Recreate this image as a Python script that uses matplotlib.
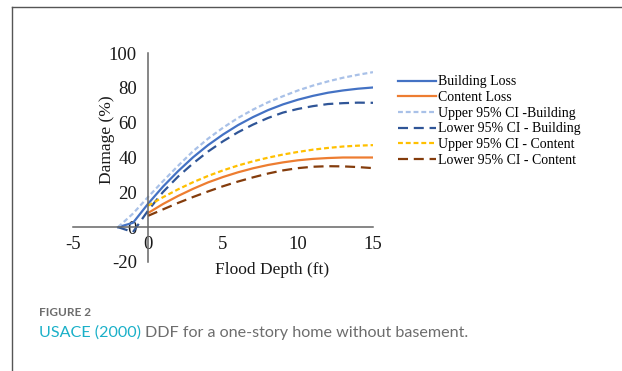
import matplotlib
matplotlib.use("Agg")
import matplotlib.pyplot as plt
from matplotlib.lines import Line2D

# ---- data ----
depth_building = [-2, -1, 0, 1, 2, 3, 4, 5, 6, 7, 8, 9, 10, 11, 12, 13, 14, 15]
building_loss = [0, 2.5, 13.4, 23.3, 32.1, 40.1, 47.1, 53.2, 58.6, 63.2, 67.2, 70.5, 73.2, 75.4, 77.2, 78.5, 79.5, 80.2]
upper_building = [0, 7.8, 17.3, 26.4, 35.2, 43.6, 50.8, 57.1, 62.7, 67.5, 71.7, 75.2, 78.5, 81.3, 83.7, 85.8, 87.5, 89.0]
lower_building = [0, -2.8, 9.5, 20.2, 29.0, 36.6, 43.4, 49.3, 54.5, 58.9, 62.7, 65.8, 67.9, 69.5, 70.7, 71.2, 71.5, 71.4]

depth_content = [0, 1, 2, 3, 4, 5, 6, 7, 8, 9, 10, 11, 12, 13, 14, 15]
content_loss = [8.1, 13.3, 17.9, 22.0, 25.7, 28.8, 31.5, 33.8, 35.7, 37.2, 38.4, 39.2, 39.7, 40.0, 40.0, 40.0]
upper_content = [12.3, 17.2, 21.7, 25.8, 29.4, 32.6, 35.4, 37.8, 39.9, 41.7, 43.2, 44.5, 45.5, 46.3, 46.8, 47.1]
lower_content = [6.5, 10.2, 13.9, 17.3, 20.5, 23.5, 26.2, 28.6, 30.8, 32.6, 33.9, 34.7, 35.0, 34.9, 34.5, 33.9]

x_ticks = [-5, 0, 5, 10, 15]
y_ticks = [-20, 0, 20, 40, 60, 80, 100]

W, H = 622, 371
fig = plt.figure(figsize=(W / 100, H / 100), dpi=100)
fig.patch.set_facecolor("white")

def fx(px):
    return px / W

def fy(py):
    return 1 - py / H

ax = fig.add_axes([fx(73), fy(262), (373 - 73) / W, (262 - 53) / H])
ax.set_xlim(-5, 15)
ax.set_ylim(-20, 100)
ax.patch.set_alpha(0)

serif = ["Liberation Serif", "DejaVu Serif"]
lw = 1.6

l1, = ax.plot(depth_building, building_loss, color="#4472C4", lw=lw, label="Building Loss")
l2, = ax.plot(depth_content, content_loss, color="#ED7D31", lw=lw, label="Content Loss")
l3, = ax.plot(depth_building, upper_building, color="#A9C1E8", lw=lw, ls=(0, (2.2, 1.3)), label="Upper 95% CI -Building")
l4, = ax.plot(depth_building, lower_building, color="#2F5597", lw=lw, ls=(0, (4.5, 2.6)), label="Lower 95% CI - Building")
l5, = ax.plot(depth_content, upper_content, color="#FFC000", lw=lw, ls=(0, (2.2, 1.3)), label="Upper 95% CI - Content")
l6, = ax.plot(depth_content, lower_content, color="#843C0C", lw=lw, ls=(0, (4.5, 2.6)), label="Lower 95% CI - Content")

for s in ["top", "right"]:
    ax.spines[s].set_visible(False)
ax.spines["left"].set_position(("data", 0))
ax.spines["bottom"].set_position(("data", 0))
for s in ["left", "bottom"]:
    ax.spines[s].set_color("#666666")
    ax.spines[s].set_linewidth(1.1)

ax.set_xticks(x_ticks)
ax.set_yticks(y_ticks)
ax.set_xticklabels([str(v) for v in x_ticks], fontfamily=serif, fontsize=13.5)
ax.set_yticklabels([str(v) for v in y_ticks], fontfamily=serif, fontsize=13.5)
ax.tick_params(axis="both", length=0, colors="#1a1a1a")
ax.tick_params(axis="x", pad=6)
ax.tick_params(axis="y", pad=8)

fig.text(fx(107), fy(140), "Damage (%)", rotation=90, ha="center", va="center",
         fontfamily=serif, fontsize=12.5, color="#1a1a1a")
fig.text(fx(272), fy(270), "Flood Depth (ft)", ha="center", va="center",
         fontfamily=serif, fontsize=12.5, color="#1a1a1a")

leg = fig.legend(handles=[l1, l2, l3, l4, l5, l6], loc="upper left",
                 bbox_to_anchor=(fx(398), fy(75.5)), bbox_transform=fig.transFigure,
                 frameon=False, borderpad=0, borderaxespad=0, handlelength=2.7,
                 handletextpad=0.15, labelspacing=0.19,
                 prop={"family": serif, "size": 10})

# frame lines
fig.add_artist(Line2D([fx(12), 1], [fy(6.5), fy(6.5)], color="#555555", lw=1.0, transform=fig.transFigure))
fig.add_artist(Line2D([fx(12), fx(12)], [fy(6.5), 0], color="#555555", lw=1.0, transform=fig.transFigure))

# caption
cap_font = ["Lato", "Open Sans", "DejaVu Sans"]
fig.text(fx(39), fy(312), "FIGURE 2", ha="left", va="center", fontfamily=cap_font,
         fontsize=8.5, fontweight="bold", color="#6d6d6d")
t1 = fig.text(fx(39), fy(333), "USACE (2000)", ha="left", va="center", fontfamily=cap_font,
              fontsize=11.6, color="#1AB0C8")
fig.canvas.draw()
bb = t1.get_window_extent(fig.canvas.get_renderer())
fig.text(bb.x1 / W + fx(4), fy(333), "DDF for a one-story home without basement.", ha="left", va="center",
         fontfamily=cap_font, fontsize=11.6, color="#6d6d6d")

fig.savefig("out.png", dpi=100)
